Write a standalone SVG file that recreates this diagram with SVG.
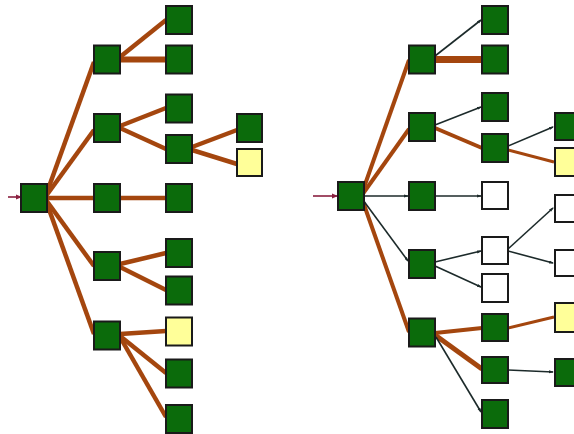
<svg xmlns="http://www.w3.org/2000/svg" width="574" height="434" viewBox="0 0 574 434">
<defs>
<style>
.n rect{stroke:#1a1a1a;stroke-width:2}
.g rect{fill:#0b6b0b}
.y rect{fill:#ffff99}
.w rect{fill:#ffffff}
.b{stroke:#a4460e;fill:none;stroke-linecap:butt}
.t{stroke:#1c2a2a;stroke-width:1.6;fill:none}
.in{stroke:#8a2040;stroke-width:1.6;fill:none}
</style>
<marker id="ah" markerWidth="6" markerHeight="6" refX="5" refY="3" orient="auto" markerUnits="userSpaceOnUse">
<path d="M0,0.5 L6,3 L0,5.5 z" fill="#8a2040"/>
</marker>
<marker id="at" markerWidth="5" markerHeight="5" refX="4" refY="2.5" orient="auto" markerUnits="userSpaceOnUse">
<path d="M0,1 L5,2.5 L0,4 z" fill="#1c2a2a"/>
</marker>
</defs>
<rect width="574" height="434" fill="#ffffff"/>
<g id="connectors">
<!-- left tree -->
<line class="in" x1="8" y1="197" x2="21" y2="197" marker-end="url(#ah)"/>
<g class="b" stroke-width="4.5">
<line x1="46" y1="195" x2="94" y2="62"/>
<line x1="46" y1="196" x2="94" y2="130"/>
<line x1="46" y1="198" x2="94" y2="198"/>
<line x1="46" y1="200" x2="94" y2="266"/>
<line x1="46" y1="201" x2="94" y2="334"/>
<line x1="120" y1="57" x2="166" y2="20"/>
<line x1="120" y1="59.5" x2="166" y2="59.5" stroke-width="6"/>
<line x1="120" y1="126" x2="166" y2="108"/>
<line x1="120" y1="128" x2="166" y2="149"/>
<line x1="120" y1="198" x2="166" y2="198"/>
<line x1="120" y1="264" x2="166" y2="253"/>
<line x1="120" y1="267" x2="166" y2="290"/>
<line x1="120" y1="334" x2="166" y2="331"/>
<line x1="120" y1="336" x2="166" y2="373"/>
<line x1="120" y1="337" x2="166" y2="417"/>
<line x1="192" y1="147" x2="237" y2="130"/>
<line x1="192" y1="150" x2="237" y2="164"/>
</g>
<!-- right tree -->
<line class="in" x1="313" y1="196" x2="337" y2="196" marker-end="url(#ah)"/>
<g class="b">
<line x1="362" y1="193" x2="409" y2="60" stroke-width="4"/>
<line x1="362" y1="195" x2="409" y2="129" stroke-width="4"/>
<line x1="362" y1="199" x2="409" y2="332" stroke-width="4"/>
<line x1="435" y1="59.5" x2="482" y2="59.5" stroke-width="7"/>
<line x1="435" y1="128" x2="482" y2="148" stroke-width="4"/>
<line x1="508" y1="150" x2="554" y2="162" stroke-width="3"/>
<line x1="435" y1="333" x2="482" y2="328" stroke-width="4"/>
<line x1="435" y1="335" x2="482" y2="369" stroke-width="5"/>
<line x1="508" y1="328" x2="554" y2="317" stroke-width="3"/>
</g>
<g class="t">
<line x1="435" y1="56" x2="481" y2="20" marker-end="url(#at)"/>
<line x1="435" y1="125" x2="481" y2="107" marker-end="url(#at)"/>
<line x1="508" y1="146" x2="553" y2="127" marker-end="url(#at)"/>
<line x1="364" y1="196" x2="408" y2="196" marker-end="url(#at)"/>
<line x1="435" y1="196" x2="481" y2="196" marker-end="url(#at)"/>
<line x1="363" y1="200" x2="408" y2="261" marker-end="url(#at)"/>
<line x1="435" y1="262" x2="481" y2="251" marker-end="url(#at)"/>
<line x1="435" y1="266" x2="481" y2="287" marker-end="url(#at)"/>
<line x1="508" y1="249" x2="553" y2="208" marker-end="url(#at)"/>
<line x1="508" y1="251" x2="553" y2="263" marker-end="url(#at)"/>
<line x1="436" y1="337" x2="481" y2="412" marker-end="url(#at)"/>
<line x1="508" y1="370" x2="553" y2="372" marker-end="url(#at)"/>
</g>
</g>
<!-- left tree nodes -->
<g id="L-root" class="n g"><rect x="21" y="184" width="26" height="28"/></g>
<g id="L-A" class="n g"><rect x="94" y="45.5" width="26" height="28"/></g>
<g id="L-B" class="n g"><rect x="94" y="114" width="26" height="28"/></g>
<g id="L-C" class="n g"><rect x="94" y="184" width="26" height="28"/></g>
<g id="L-D" class="n g"><rect x="94" y="252" width="26" height="28"/></g>
<g id="L-E" class="n g"><rect x="94" y="321.5" width="26" height="28"/></g>
<g id="L-A1" class="n g"><rect x="166" y="6" width="26" height="28"/></g>
<g id="L-A2" class="n g"><rect x="166" y="45.5" width="26" height="28"/></g>
<g id="L-B1" class="n g"><rect x="166" y="94.5" width="26" height="28"/></g>
<g id="L-B2" class="n g"><rect x="166" y="135" width="26" height="28"/></g>
<g id="L-C1" class="n g"><rect x="166" y="184" width="26" height="28"/></g>
<g id="L-D1" class="n g"><rect x="166" y="239" width="26" height="28"/></g>
<g id="L-D2" class="n g"><rect x="166" y="276.5" width="26" height="28"/></g>
<g id="L-E1" class="n y"><rect x="166" y="317.5" width="26" height="28"/></g>
<g id="L-E2" class="n g"><rect x="166" y="359.5" width="26" height="28"/></g>
<g id="L-E3" class="n g"><rect x="166" y="405" width="26" height="28"/></g>
<g id="L-B2a" class="n g"><rect x="237" y="114" width="25" height="28"/></g>
<g id="L-B2b" class="n y"><rect x="237" y="149" width="25" height="27"/></g>
<!-- right tree nodes -->
<g id="R-root" class="n g"><rect x="338" y="182" width="26" height="28"/></g>
<g id="R-A" class="n g"><rect x="409" y="45.5" width="26" height="28"/></g>
<g id="R-B" class="n g"><rect x="409" y="113" width="26" height="28"/></g>
<g id="R-C" class="n g"><rect x="409" y="182" width="26" height="28"/></g>
<g id="R-D" class="n g"><rect x="409" y="250" width="26" height="28"/></g>
<g id="R-E" class="n g"><rect x="409" y="318.5" width="26" height="28"/></g>
<g id="R-A1" class="n g"><rect x="482" y="6" width="26" height="28"/></g>
<g id="R-A2" class="n g"><rect x="482" y="45.5" width="26" height="28"/></g>
<g id="R-B1" class="n g"><rect x="482" y="93" width="26" height="28"/></g>
<g id="R-B2" class="n g"><rect x="482" y="134" width="26" height="28"/></g>
<g id="R-C1" class="n w"><rect x="482" y="182" width="26" height="27"/></g>
<g id="R-D1" class="n w"><rect x="482" y="237" width="26" height="27"/></g>
<g id="R-D2" class="n w"><rect x="482" y="274" width="26" height="28"/></g>
<g id="R-E1" class="n g"><rect x="482" y="314" width="26" height="27"/></g>
<g id="R-E2" class="n g"><rect x="482" y="357" width="26" height="26"/></g>
<g id="R-E3" class="n g"><rect x="482" y="400" width="26" height="28"/></g>
<g id="R-B2a" class="n g"><rect x="555" y="113" width="26" height="27"/></g>
<g id="R-B2b" class="n y"><rect x="555" y="148" width="26" height="28"/></g>
<g id="R-D1a" class="n w"><rect x="555" y="195" width="26" height="27"/></g>
<g id="R-D1b" class="n w"><rect x="555" y="250" width="26" height="26"/></g>
<g id="R-E1a" class="n y"><rect x="555" y="303" width="26" height="29"/></g>
<g id="R-E2a" class="n g"><rect x="555" y="359" width="26" height="27"/></g>
</svg>
